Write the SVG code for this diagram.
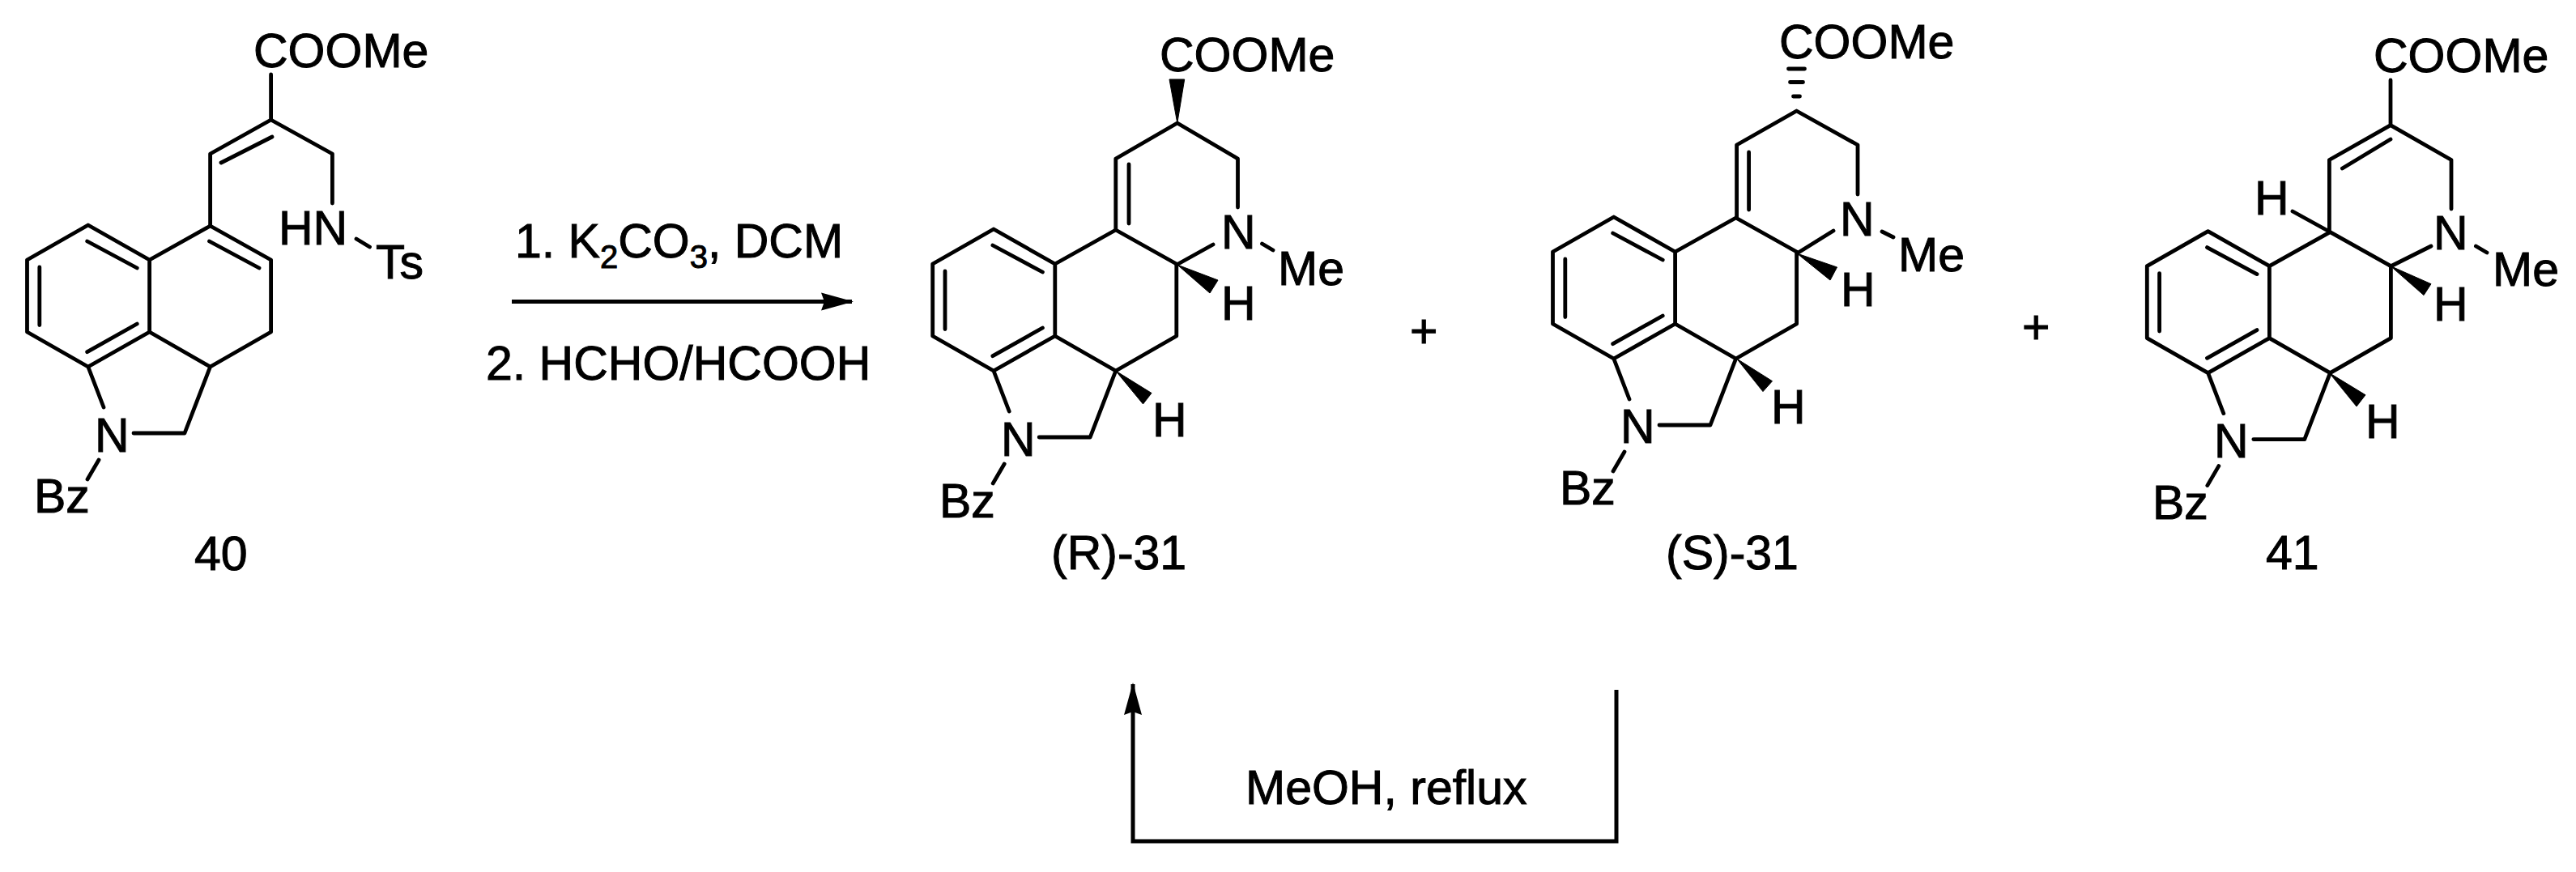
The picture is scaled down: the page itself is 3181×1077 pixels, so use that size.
<svg xmlns="http://www.w3.org/2000/svg" width="3181" height="1077" viewBox="0 0 3181 1077">
<style>
text{font-family:"Liberation Sans",Arial,sans-serif;font-size:59px;fill:#000;stroke:#000;stroke-width:1}
.b{fill:none;stroke:#000;stroke-width:4.8;stroke-linejoin:round;stroke-linecap:round}
.w{fill:#000;stroke:#000;stroke-width:1;stroke-linejoin:round}
.c{fill:none;stroke:#000;stroke-width:5}
.s{font-size:40px}
</style>
<defs>
<path id="core" class="b" d="M108.8,278L33.5,321V410L108.8,453L184.6,410V321ZM107.7,298L169.2,331M48.8,330V401.5M107.7,434.7L169.2,400M184.6,321L259.6,279L334.6,321V410L259.6,453L184.6,410M259.6,453L228,535H165M108.8,453L128,503M122,568L108,592"/>
<marker id="ah" viewBox="0 0 40 24" refX="38" refY="12" markerWidth="40" markerHeight="24" markerUnits="userSpaceOnUse" orient="auto"><path d="M0,1L40,12L0,23L4,12Z" fill="#000"/></marker>
</defs>
<rect width="3181" height="1077" fill="#fff"/>
<g id="mol-40">
<use href="#core"/>
<path class="b" d="M258.5,298L320,331M259.6,279V190L334.6,148L410.4,190V251M273,201L336,169M334.6,148V92M440,295L456.5,305"/>
<text x="313" y="83">COOMe</text>
<text x="344" y="302">HN</text>
<text x="464" y="344">Ts</text>
<text x="117" y="558">N</text>
<text x="42" y="633">Bz</text>
<text x="240" y="704">40</text>
</g>
<g id="mol-R-31">
<use href="#core" transform="translate(1118.2,5)"/>
<path class="b" d="M1377.8,284V196L1453.8,152L1528.5,196V256M1394,203V276M1453,327L1498,302M1558.5,301L1572,309"/>
<polygon class="w" points="1453.8,152 1444,98 1462.7,98"/>
<polygon class="w" points="1453.8,327 1504,346 1494,362"/>
<polygon class="w" points="1377.7,458 1422,485.5 1411.5,499"/>
<text x="1432" y="88">COOMe</text>
<text x="1508" y="307">N</text>
<text x="1578" y="352">Me</text>
<text x="1508" y="395">H</text>
<text x="1423" y="539">H</text>
<text x="1236" y="563">N</text>
<text x="1160" y="639">Bz</text>
<text x="1298" y="703">(R)-31</text>
</g>
<g id="mol-S-31">
<use href="#core" transform="translate(1884,-10)"/>
<path class="b" d="M2144.6,269V179L2218.5,137L2294,179V240M2159.6,188V259M2219,313L2264,285M2324,286L2338,293M2208.5,85H2228.5M2210.5,101.5H2226.5M2214.5,119H2222.5"/>
<polygon class="w" points="2219,313 2268.5,330 2260,346"/>
<polygon class="w" points="2144.6,443 2188.5,470.7 2177,483.6"/>
<text x="2197" y="72">COOMe</text>
<text x="2272" y="291">N</text>
<text x="2344" y="335">Me</text>
<text x="2273" y="378">H</text>
<text x="2187" y="523">H</text>
<text x="2001" y="547">N</text>
<text x="1926" y="623">Bz</text>
<text x="2057" y="703">(S)-31</text>
</g>
<g id="mol-41">
<use href="#core" transform="translate(2617.8,7.6)"/>
<path class="b" d="M2876.4,286V197.5L2952,154.6L3027,197.5V258M2892.4,208L2952,172M2952,154.6V99M2831,261L2876.4,286M2952,329L3002,304M3057.4,304L3071,312"/>
<polygon class="w" points="2952,328.6 3002,350.7 2993,364.6"/>
<polygon class="w" points="2876.4,460.6 2921,487.8 2910,502"/>
<text x="2931" y="89">COOMe</text>
<text x="2784" y="265">H</text>
<text x="3005" y="308">N</text>
<text x="3078" y="353">Me</text>
<text x="3005" y="396">H</text>
<text x="2921" y="541">H</text>
<text x="2734" y="565">N</text>
<text x="2658" y="641">Bz</text>
<text x="2798" y="703">41</text>
</g>
<g id="plus-signs">
<text x="1741" y="429">+</text>
<text x="2497" y="424">+</text>
</g>
<g id="connectors">
<path class="c" d="M632,372.5H1052" marker-end="url(#ah)"/>
<path class="c" d="M1996,852V1039H1399V845" marker-end="url(#ah)"/>
</g>
<g id="labels">
<text x="636" y="318">1. K<tspan class="s" dy="13">2</tspan><tspan dy="-13">CO</tspan><tspan class="s" dy="13">3</tspan><tspan dy="-13">, DCM</tspan></text>
<text x="600" y="469">2. HCHO/HCOOH</text>
<text x="1538" y="993">MeOH, reflux</text>
</g>
</svg>
